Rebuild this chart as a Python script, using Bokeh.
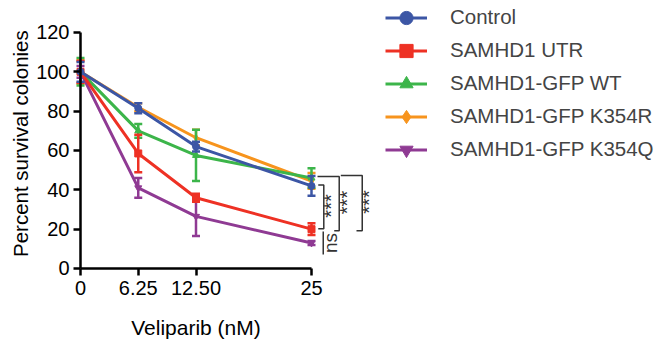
import math
from bokeh.plotting import figure
from bokeh.models import Range1d, FixedTicker, Label, Legend, LegendItem
from bokeh.core.properties import value
from bokeh.embed import file_html
from bokeh.resources import INLINE

# ---------------- data ----------------
doses = [0, 6.25, 12.5, 25]
dose_tick_labels = ["0", "6.25", "12.50", "25"]
y_ticks = [0, 20, 40, 60, 80, 100, 120]

series_names = ["Control", "SAMHD1 UTR", "SAMHD1-GFP WT", "SAMHD1-GFP K354R", "SAMHD1-GFP K354Q"]
control = [100, 81.5, 62, 42]
control_err = [5, 2.5, 2.5, 5]
utr = [100, 58.5, 36, 20]
utr_err = [5.5, 9.5, 2, 3]
wt = [100, 70, 57.5, 46]
wt_err = [7, 3.5, 13, 5]
k354r = [100, 82, 66.5, 44.5]
k354r_err = [6, 2, 4, 4]
k354q = [100, 41, 26.5, 13]
k354q_err = [3, 5, 10, 1]

# significance brackets (values at the highest dose)
sig_top = [42.5, 46.8, 47.3]
sig_bottom = [20.2, 19.2, 19.2]
sig_label = ["***", "***", "***"]
ns_top = 18.8
ns_bottom = 7.1
ns_label = "ns"

# ---------------- style ----------------
FONT = "Liberation Sans"
colors = {
    "Control": "#3c56a5",
    "SAMHD1 UTR": "#ee3124",
    "SAMHD1-GFP WT": "#3cb54a",
    "SAMHD1-GFP K354R": "#f7941d",
    "SAMHD1-GFP K354Q": "#8f3a93",
}
markers = {
    "Control": "circle",
    "SAMHD1 UTR": "square",
    "SAMHD1-GFP WT": "triangle",
    "SAMHD1-GFP K354R": "diamond",
    "SAMHD1-GFP K354Q": "inverted_triangle",
}
vals = {
    "Control": (control, control_err),
    "SAMHD1 UTR": (utr, utr_err),
    "SAMHD1-GFP WT": (wt, wt_err),
    "SAMHD1-GFP K354R": (k354r, k354r_err),
    "SAMHD1-GFP K354Q": (k354q, k354q_err),
}

p = figure(
    width=660, height=341,
    x_range=Range1d(-8.658, 62.77), y_range=Range1d(-37.12, 136.27),
    output_backend="svg", toolbar_location=None,
)
p.min_border = 0
p.min_border_left = 0
p.min_border_right = 0
p.min_border_top = 0
p.min_border_bottom = 0
p.outline_line_color = None
p.xgrid.visible = False
p.ygrid.visible = False

# axes (drawn at the origin, inside the frame)
for ax in (p.xaxis, p.yaxis):
    ax.axis_line_width = 2.5
    ax.major_tick_line_width = 2.5
    ax.major_tick_out = 7
    ax.major_tick_in = 0
    ax.minor_tick_out = 0
    ax.minor_tick_in = 0
    ax.major_label_text_font = FONT
    ax.major_label_text_font_size = "20px"
    ax.major_label_text_color = "black"
    ax.axis_line_color = "black"
    ax.major_tick_line_color = "black"

p.yaxis.fixed_location = 0
p.yaxis.bounds = (0, 120)
p.yaxis.ticker = FixedTicker(ticks=y_ticks)
p.yaxis.major_label_standoff = 4

p.xaxis.fixed_location = 0
p.xaxis.bounds = (0, 25)
p.xaxis.ticker = FixedTicker(ticks=doses)
p.xaxis.major_label_overrides = {d: lab for d, lab in zip(doses, dose_tick_labels)}
p.xaxis.major_label_standoff = 6

# series
draw_order = ["SAMHD1-GFP K354R", "SAMHD1-GFP K354Q", "SAMHD1-GFP WT", "SAMHD1 UTR", "Control"]
line_r = {}
mark_r = {}
for name in draw_order:
    y, e = vals[name]
    c = colors[name]
    lo = [a - b for a, b in zip(y, e)]
    hi = [a + b for a, b in zip(y, e)]
    line_r[name] = p.line(doses, y, line_width=3, color=c)
    p.segment(x0=doses, y0=lo, x1=doses, y1=hi, line_width=2.5, color=c)
    p.scatter(doses, lo, marker="dash", size=8, line_width=2.5, color=c)
    p.scatter(doses, hi, marker="dash", size=8, line_width=2.5, color=c)
    mark_r[name] = p.scatter(doses, y, marker=markers[name], size=7, color=c)

# significance brackets
last = doses[-1]
bracket_dx = [1.33, 3.0, 5.49]
top_tick_dx = [0.73, 0.65, 3.17]
bot_tick_dx = [0.73, 2.46, 4.87]
label_dx = [2.06, 3.87, 6.2]
label_y_frac = [0.52, 0.52, 0.52]
xs, ys = [], []
for i in range(len(sig_top)):
    bx = last + bracket_dx[i]
    xs.append([last + top_tick_dx[i], bx, bx, last + bot_tick_dx[i]])
    ys.append([sig_top[i], sig_top[i], sig_bottom[i], sig_bottom[i]])
p.multi_line(xs, ys, line_color="#333333", line_width=1.5)
p.segment(x0=[last + 1.27], y0=[ns_top], x1=[last + 1.27], y1=[ns_bottom],
          line_color="#333333", line_width=1.5)

lab_x = [last + d for d in label_dx]
lab_y = [b + (t - b) * f for t, b, f in zip(sig_top, sig_bottom, label_y_frac)]
p.text(lab_x, lab_y, text=sig_label, angle=math.pi / 2, text_align="center",
       text_baseline="alphabetic", text_font=value(FONT), text_font_size="20px",
       text_color="#333333")
p.text([last + 2.05], [(ns_top + ns_bottom) / 2], text=[ns_label], angle=math.pi / 2,
       text_align="center", text_baseline="alphabetic", text_font=value(FONT),
       text_font_size="19px", text_color="#333333")

# axis titles
p.add_layout(Label(x=-6.5, y=63.5, text="Percent survival colonies", angle=math.pi / 2,
                   text_align="center", text_baseline="middle", text_font=FONT,
                   text_font_size="20.5px", text_color="black"))
p.add_layout(Label(x=12.5, y=-30, text="Veliparib (nM)", text_align="center",
                   text_baseline="middle", text_font=FONT, text_font_size="21px",
                   text_color="black"))

# legend
items = [LegendItem(label=n, renderers=[line_r[n], mark_r[n]]) for n in series_names]
legend = Legend(items=items, location=(385, 175.5), glyph_width=42, glyph_height=33,
                spacing=0, label_standoff=23, padding=0, margin=0,
                label_text_font=FONT, label_text_font_size="20.5px",
                border_line_color=None, background_fill_alpha=0)
p.add_layout(legend)

open("out.html", "w").write(file_html(p, INLINE))
